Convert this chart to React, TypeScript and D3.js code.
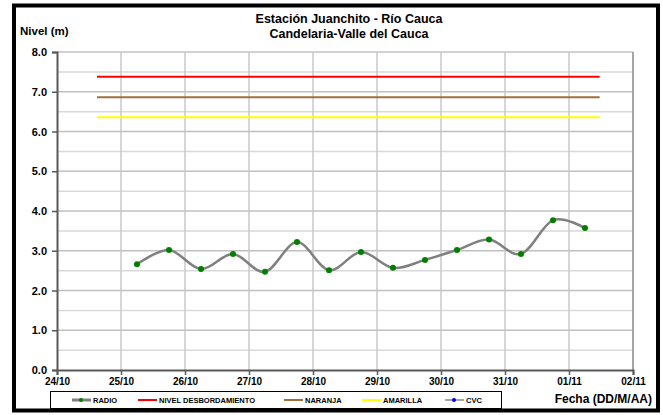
import React, { useEffect, useRef } from 'react';
import * as d3 from 'd3';

const parseTime = d3.timeParse('%Y-%m-%d %H:%M');

const radioTimes = [
  '2011-10-25 06:00', '2011-10-25 18:00', '2011-10-26 06:00', '2011-10-26 18:00',
  '2011-10-27 06:00', '2011-10-27 18:00', '2011-10-28 06:00', '2011-10-28 18:00',
  '2011-10-29 06:00', '2011-10-29 18:00', '2011-10-30 06:00', '2011-10-30 18:00',
  '2011-10-31 06:00', '2011-10-31 18:00', '2011-11-01 06:00',
];
const radioValues = [2.66, 3.02, 2.54, 2.92, 2.47, 3.22, 2.51, 2.97, 2.57, 2.77, 3.02, 3.28, 2.92, 3.77, 3.57];

const thresholdNames = ['NIVEL DESBORDAMIENTO', 'NARANJA', 'AMARILLA'];
const thresholdValues = [7.38, 6.86, 6.36];
const thresholdColors = ['#ff0000', '#a0703c', '#ffff00'];
const thresholdSpan = ['2011-10-24 15:00', '2011-11-01 11:30'];

const legendNames = ['RADIO', ...thresholdNames, 'CVC'];
const xDomain = ['2011-10-24 00:00', '2011-11-02 00:00'];
const yTicks = [0, 1, 2, 3, 4, 5, 6, 7, 8];

function App() {
  const ref = useRef<SVGSVGElement>(null);
  const width = 663;
  const height = 415;
  const margin = { top: 52, right: 633, bottom: 370, left: 57 };
  const font = "'Liberation Sans', Arial, sans-serif";

  useEffect(() => {
    document.body.style.margin = '0';
    const svg = d3.select(ref.current);
    svg.selectAll('*').remove();

    const x = d3.scaleTime()
      .domain(xDomain.map((d) => parseTime(d) as Date))
      .range([margin.left, margin.right]);
    const y = d3.scaleLinear().domain([0, 8]).range([margin.bottom, margin.top]);

    svg.append('rect').attr('width', width).attr('height', height).attr('fill', '#fff');
    // outer black frame
    svg.append('rect')
      .attr('x', 14).attr('y', 5.5).attr('width', 644).attr('height', 405)
      .attr('fill', 'none').attr('stroke', '#000').attr('stroke-width', 4);

    // horizontal grid (major + half steps)
    const halfTicks = d3.range(0.5, 8, 1);
    svg.append('g').selectAll('line').data(halfTicks).enter().append('line')
      .attr('x1', margin.left).attr('x2', margin.right)
      .attr('y1', (d) => y(d)).attr('y2', (d) => y(d))
      .attr('stroke', '#d9d9d9').attr('stroke-width', 1.5);
    svg.append('g').selectAll('line').data(yTicks.slice(1)).enter().append('line')
      .attr('x1', margin.left).attr('x2', margin.right)
      .attr('y1', (d) => y(d)).attr('y2', (d) => y(d))
      .attr('stroke', '#c0c0c0').attr('stroke-width', 1.5);

    // vertical grid
    const days = x.ticks(d3.timeDay.every(1));
    svg.append('g').selectAll('line').data(days.slice(1)).enter().append('line')
      .attr('x1', (d) => x(d)).attr('x2', (d) => x(d))
      .attr('y1', margin.top).attr('y2', margin.bottom)
      .attr('stroke', '#c8c8c8').attr('stroke-width', 1.5);

    // plot border right
    svg.append('line').attr('x1', margin.right).attr('x2', margin.right)
      .attr('y1', margin.top).attr('y2', margin.bottom)
      .attr('stroke', '#a6a6a6').attr('stroke-width', 2);

    // axes
    const yAxis = svg.append('g').attr('transform', `translate(${margin.left},0)`)
      .call(d3.axisLeft(y).tickValues(yTicks).tickFormat(d3.format('.1f')).tickSize(5).tickPadding(5));
    const xAxis = svg.append('g').attr('transform', `translate(0,${margin.bottom})`)
      .call(d3.axisBottom(x).ticks(d3.timeDay.every(1)).tickFormat(d3.timeFormat('%d/%m') as any).tickSize(5).tickPadding(3));
    [yAxis, xAxis].forEach((a) => {
      a.select('.domain').attr('stroke', '#595959').attr('stroke-width', 2);
      a.selectAll('.tick line').attr('stroke', '#595959').attr('stroke-width', 1.5);
      a.selectAll('.tick text').attr('fill', '#000').style('font-family', font)
        .style('font-weight', 'bold');
    });
    yAxis.selectAll('.tick text').style('font-size', '11px');
    xAxis.selectAll('.tick text').style('font-size', '10px');

    // threshold lines
    const [t0, t1] = thresholdSpan.map((d) => parseTime(d) as Date);
    thresholdValues.forEach((v, i) => {
      svg.append('line')
        .attr('x1', x(t0)).attr('x2', x(t1))
        .attr('y1', y(v)).attr('y2', y(v))
        .attr('stroke', thresholdColors[i]).attr('stroke-width', 2);
    });

    // RADIO series
    const radio = radioTimes.map((t, i) => ({ date: parseTime(t) as Date, value: radioValues[i] }));
    const line = d3.line<{ date: Date; value: number }>()
      .x((d) => x(d.date)).y((d) => y(d.value))
      .curve(d3.curveCatmullRom.alpha(0));
    svg.append('path').datum(radio).attr('d', line)
      .attr('fill', 'none').attr('stroke', '#808080').attr('stroke-width', 2.5);
    svg.append('g').selectAll('circle').data(radio).enter().append('circle')
      .attr('cx', (d) => x(d.date)).attr('cy', (d) => y(d.value)).attr('r', 3)
      .attr('fill', '#008000');

    // titles
    svg.append('text').attr('x', 349).attr('y', 22.5).attr('text-anchor', 'middle')
      .style('font-family', font).style('font-weight', 'bold').style('font-size', '12.5px')
      .text('Estación Juanchito - Río Cauca');
    svg.append('text').attr('x', 349).attr('y', 37.5).attr('text-anchor', 'middle')
      .style('font-family', font).style('font-weight', 'bold').style('font-size', '12.5px')
      .text('Candelaria-Valle del Cauca');

    svg.append('text').attr('x', 20).attr('y', 35)
      .style('font-family', font).style('font-weight', 'bold').style('font-size', '11.5px')
      .text('Nivel (m)');

    svg.append('text').attr('x', 652).attr('y', 403).attr('text-anchor', 'end')
      .style('font-family', font).style('font-weight', 'bold').style('font-size', '12px')
      .text('Fecha (DD/M/AA)');

    // legend
    const legend = svg.append('g');
    legend.append('rect').attr('x', 50.5).attr('y', 391.5).attr('width', 451).attr('height', 17)
      .attr('fill', '#fff').attr('stroke', '#000').attr('stroke-width', 1);
    const legendX = [72, 138, 284, 362, 445];
    const legendColors = ['#808080', ...thresholdColors, '#a6a6a6'];
    const markerColors = ['#008000', null, null, null, '#0000ff'];
    legendNames.forEach((name, i) => {
      const lx = legendX[i];
      legend.append('line').attr('x1', lx).attr('x2', lx + 19).attr('y1', 400).attr('y2', 400)
        .attr('stroke', legendColors[i]).attr('stroke-width', i === 0 ? 3 : 2);
      if (markerColors[i]) {
        legend.append('circle').attr('cx', lx + 9).attr('cy', 400).attr('r', 2)
          .attr('fill', markerColors[i] as string);
      }
      legend.append('text').attr('x', lx + 21).attr('y', 402.8)
        .style('font-family', font).style('font-weight', 'bold').style('font-size', '7.5px')
        .text(name);
    });
  }, []);

  return <svg ref={ref} width={width} height={height} style={{ display: 'block' }} />;
}

export default App;
